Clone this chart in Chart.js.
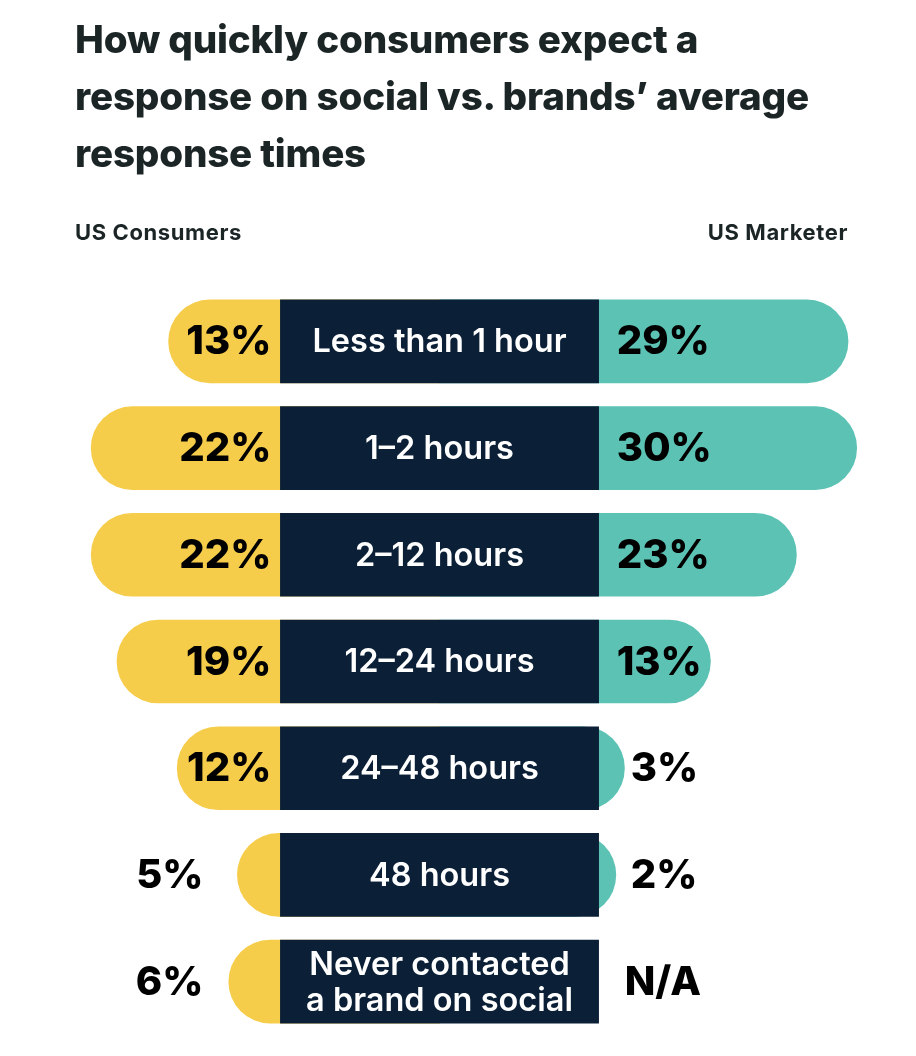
<!DOCTYPE html>
<html>
<head>
    <title>Consumer expected response times vs brands</title>
    <script src="https://cdn.jsdelivr.net/npm/chart.js"></script>
    <style>
        body {
            margin: 0;
            background: #ffffff;
            font-family: 'Inter', sans-serif;
        }

        .page {
            position: relative;
            width: 916px;
            height: 1056px;
            overflow: hidden;
        }

        h1 {
            position: absolute;
            left: 75px;
            top: 11px;
            margin: 0;
            font-size: 38.6px;
            font-weight: 800;
            line-height: 57px;
            color: #1c2526;
            letter-spacing: -0.2px;
        }

        .side {
            position: absolute;
            top: 219px;
            font-size: 22px;
            font-weight: 700;
            letter-spacing: 0.6px;
            color: #1c2526;
        }

        #chart {
            position: absolute;
            left: 0;
            top: 0;
        }
    </style>
</head>
<body>
<div class="page">
    <canvas id="chart" width="916" height="1056"></canvas>
    <h1>How quickly consumers expect a<br>response on social vs. brands’ average<br>response times</h1>
    <div class="side" style="left: 75px;">US Consumers</div>
    <div class="side" style="right: 68px;">US Marketer</div>
</div>

<script>
    // data
    const categories = [
        'Less than 1 hour',
        '1–2 hours',
        '2–12 hours',
        '12–24 hours',
        '24–48 hours',
        '48 hours',
        ['Never contacted', 'a brand on social']
    ];
    const consumers = [13, 22, 22, 19, 12, 5, 6];
    const marketers = [29, 30, 23, 13, 3, 2, null];

    // half width of the dark label band, in axis units
    const BAND = 18.5;

    const YELLOW = '#f6cd4b';
    const TEAL = '#5bc2b4';
    const NAVY = '#0b1f36';

    const labelPlugin = {
        id: 'labels',
        afterDatasetsDraw(chart) {
            const ctx = chart.ctx;
            const x = chart.scales.x;
            const y = chart.scales.y;
            const leftEdge = x.getPixelForValue(-BAND);
            const rightEdge = x.getPixelForValue(BAND);
            const mid = x.getPixelForValue(0);

            ctx.save();
            ctx.textBaseline = 'middle';
            categories.forEach((cat, i) => {
                const cy = y.getPixelForValue(i);

                // category label in the band
                ctx.fillStyle = '#ffffff';
                ctx.font = '600 32.5px Inter';
                ctx.textAlign = 'center';
                if (Array.isArray(cat)) {
                    ctx.fillText(cat[0], mid, cy - 16);
                    ctx.fillText(cat[1], mid, cy + 20);
                } else {
                    ctx.fillText(cat, mid, cy + 1);
                }

                ctx.fillStyle = '#000000';
                ctx.font = '800 40px Inter';

                // consumers
                const c = consumers[i];
                ctx.textAlign = 'right';
                if (c >= 10) {
                    ctx.fillText(c + '%', leftEdge - 9, cy + 1);
                } else {
                    ctx.fillText(c + '%', leftEdge - 77, cy + 1);
                }

                // marketers
                const m = marketers[i];
                ctx.textAlign = 'left';
                if (m === null) {
                    ctx.fillText('N/A', rightEdge + 26, cy + 1);
                } else if (m >= 10) {
                    ctx.fillText(m + '%', rightEdge + 18, cy + 1);
                } else {
                    ctx.fillText(m + '%', rightEdge + 32, cy + 1);
                }
            });
            ctx.restore();
        }
    };

    new Chart(document.getElementById('chart'), {
        type: 'bar',
        data: {
            labels: categories,
            datasets: [
                {
                    label: 'band',
                    data: categories.map(() => [-BAND, BAND]),
                    backgroundColor: NAVY,
                    order: 0
                },
                {
                    label: 'US Consumers',
                    data: consumers.map(v => [0, -(BAND + v)]),
                    backgroundColor: YELLOW,
                    borderRadius: {topLeft: 42, bottomLeft: 42},
                    order: 1
                },
                {
                    label: 'US Marketer',
                    data: marketers.map(v => v === null ? null : [0, BAND + v]),
                    backgroundColor: TEAL,
                    borderRadius: {topRight: 42, bottomRight: 42},
                    order: 1
                }
            ]
        },
        options: {
            indexAxis: 'y',
            responsive: false,
            animation: false,
            events: [],
            layout: {
                padding: {top: 288, bottom: 21, left: 0, right: 0}
            },
            datasets: {
                bar: {
                    grouped: false,
                    barThickness: 83,
                    borderSkipped: false
                }
            },
            scales: {
                x: {
                    type: 'linear',
                    display: false,
                    min: -51.1,
                    max: 55.4
                },
                y: {
                    display: false
                }
            },
            plugins: {
                legend: {display: false},
                tooltip: {enabled: false}
            }
        },
        plugins: [labelPlugin]
    });
</script>
</body>
</html>
